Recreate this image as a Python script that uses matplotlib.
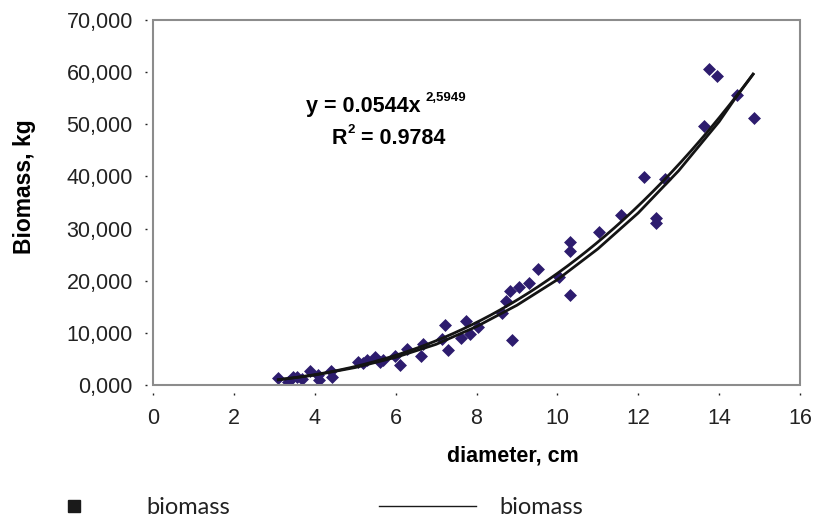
import matplotlib
matplotlib.use("Agg")
import matplotlib.pyplot as plt
import numpy as np
from matplotlib.lines import Line2D
from matplotlib.patches import Rectangle
from matplotlib.ticker import FuncFormatter

plt.rcParams['font.family'] = ['Liberation Sans', 'DejaVu Sans']

# --- measured trees (diameter in cm, biomass in thousands) ---
diameter = [3.10, 3.35, 3.46, 3.55, 3.68, 3.88, 4.09, 4.11, 4.39, 4.42,
            5.08, 5.20, 5.28, 5.49, 5.61, 5.69, 5.98, 6.11, 6.27, 6.62,
            6.68, 7.14, 7.22, 7.30, 7.61, 7.73, 7.83, 8.04, 8.62, 8.72,
            8.83, 8.89, 9.04, 9.29, 9.51, 10.04, 10.31, 10.31, 10.31, 11.03,
            11.57, 12.14, 12.45, 12.45, 12.66, 13.63, 13.75, 13.94, 14.43, 14.86]
biomass = [1.28, 0.64, 1.47, 1.60, 1.15, 2.69, 1.92, 0.90, 2.69, 1.60,
           4.40, 4.30, 4.80, 5.40, 4.50, 4.80, 5.60, 3.90, 6.90, 5.50,
           7.80, 8.90, 11.60, 6.80, 8.95, 12.30, 9.80, 11.10, 13.75, 16.20,
           18.10, 8.70, 18.70, 19.60, 22.20, 20.80, 27.50, 25.70, 17.30, 29.40,
           32.60, 39.95, 32.00, 31.10, 39.60, 49.70, 60.60, 59.30, 55.60, 51.20]

# --- second "biomass" line series ---
line_x = [3.10, 4.0, 5.0, 6.0, 7.0, 8.0, 9.0, 10.0, 11.0, 12.0, 13.0, 14.0, 14.4, 14.84]
line_y = [1.00, 1.90, 3.35, 5.30, 7.80, 11.20, 15.30, 20.20, 26.10, 33.00, 41.10, 50.50, 55.00, 59.60]

# power trendline printed on the chart
COEF = 0.0544
EXPO = 2.5949

W, H = 818, 517
fig = plt.figure(figsize=(W / 100, H / 100), dpi=100)
ax = fig.add_axes([153 / W, 1 - 385 / H, (800 - 153) / W, (385 - 20) / H])

ax.scatter(diameter, biomass, marker='D', s=6.6 ** 2, color='#2d1c6e', zorder=3, linewidths=0)

xs = np.linspace(min(diameter), 14.84, 200)
ax.plot(xs, COEF * xs ** EXPO, color='#141414', lw=2.0, zorder=4)
ax.plot(line_x, line_y, color='#141414', lw=2.0, zorder=4)

ax.set_xlim(0, 16)
ax.set_ylim(0, 70)
ax.set_xticks(range(0, 17, 2))
ax.set_yticks(range(0, 71, 10))
ax.yaxis.set_major_formatter(FuncFormatter(lambda v, p: f"{v:.3f}".replace('.', ',')))

# gray plot-area box, ticks set off from it like the original
for side in ax.spines.values():
    side.set_color('none')
ax.spines['bottom'].set_position(('outward', 6))
ax.spines['left'].set_position(('outward', 4))
ax.add_patch(Rectangle((0, 0), 1, 1, transform=ax.transAxes, fill=False,
                       ec='#8c8c8c', lw=1.5, clip_on=False, zorder=5))
ax.tick_params(length=1.5, width=1, color='#222222', labelsize=15.5, labelcolor='#222222')
ax.tick_params(axis='x', pad=9)
ax.tick_params(axis='y', pad=9)

ax.set_xlabel('diameter, cm', fontsize=15.5, fontweight='bold', va='center')
ax.xaxis.set_label_coords((513 - 153) / 647, (385 - 456) / 365)
ax.set_ylabel('Biomass, kg', fontsize=16.5, fontweight='bold', va='center')
ax.yaxis.set_label_coords((24 - 153) / 647, (385 - 187) / 365)

# trendline equation
fig.text(306 / W, 1 - 112 / H, 'y = 0.0544x', fontsize=15.5, fontweight='bold', va='baseline')
fig.text(425 / W, 1 - 101 / H, '2,5949', fontsize=9.5, fontweight='bold', va='baseline')
fig.text(332 / W, 1 - 144 / H, 'R', fontsize=15.5, fontweight='bold', va='baseline')
fig.text(348 / W, 1 - 133 / H, '2', fontsize=9.5, fontweight='bold', va='baseline')
fig.text(361 / W, 1 - 144 / H, '= 0.9784', fontsize=15.5, fontweight='bold', va='baseline')

handles = [Line2D([], [], marker='s', ls='none', color='#1a1a1a', ms=8),
           Line2D([], [], color='#1a1a1a', lw=1)]
fig.legend(handles, ['biomass', 'biomass'], loc='center left',
           bbox_to_anchor=(26 / W, 9 / H), ncol=2, frameon=False,
           prop={'family': 'Lato', 'size': 17}, labelcolor='#222222',
           handlelength=4.1, handletextpad=1.0, columnspacing=6.3,
           borderpad=0, borderaxespad=0)

fig.savefig('out.png', dpi=100)
